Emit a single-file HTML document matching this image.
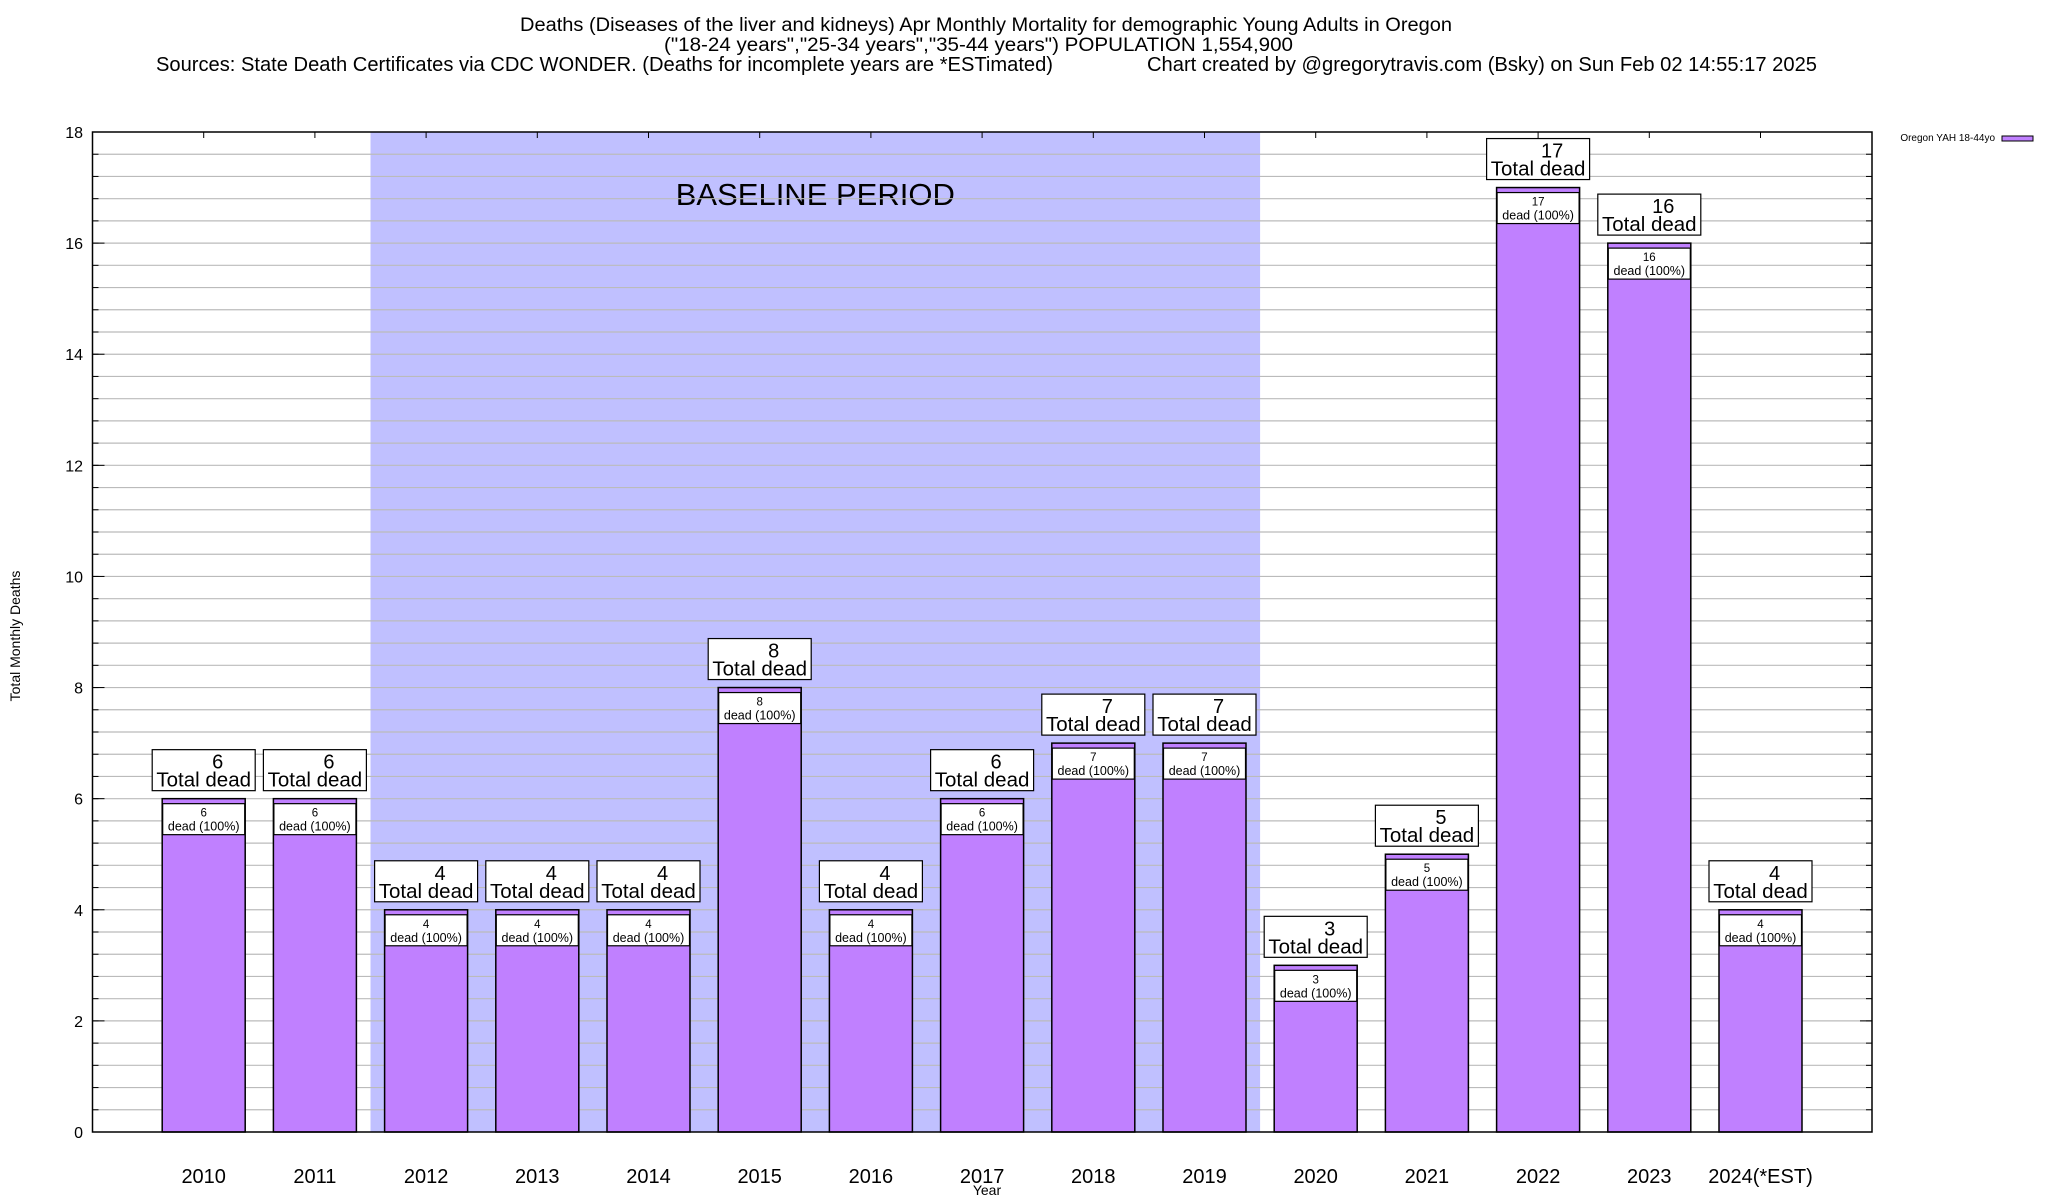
<!DOCTYPE html>
<html><head><meta charset="utf-8"><style>
html,body{margin:0;padding:0;background:#fff;}
svg{display:block;font-family:"Liberation Sans",Arial,sans-serif;}
</style></head><body>
<svg id="chart" width="2048" height="1200" viewBox="0 0 2048 1200" xmlns="http://www.w3.org/2000/svg">
<g font-size="19">
<text x="520" y="31" textLength="932" lengthAdjust="spacingAndGlyphs">Deaths (Diseases of the liver and kidneys) Apr Monthly Mortality for demographic Young Adults in Oregon</text>
<text x="664" y="51" textLength="629" lengthAdjust="spacingAndGlyphs">("18-24 years","25-34 years","35-44 years") POPULATION 1,554,900</text>
<text x="156" y="71" font-size="20" textLength="897" lengthAdjust="spacingAndGlyphs">Sources: State Death Certificates via CDC WONDER. (Deaths for incomplete years are *ESTimated)</text>
<text x="1147" y="71" font-size="20" textLength="670" lengthAdjust="spacingAndGlyphs">Chart created by @gregorytravis.com (Bsky) on Sun Feb 02 14:55:17 2025</text>
</g>
<g id="plot"></g>
<text x="20" y="636" font-size="14" text-anchor="middle" transform="rotate(-90 20 636)">Total Monthly Deaths</text>
<text x="987" y="1200" dy="-5" font-size="14" text-anchor="middle">Year</text>
<g>
<text x="1995" y="141" font-size="10" text-anchor="end">Oregon YAH 18-44yo</text>
<rect x="2002" y="136" width="31" height="5" fill="#c080ff" stroke="#000" stroke-width="1"/>
</g>
</svg>
<script>
const categories = ["2010","2011","2012","2013","2014","2015","2016","2017","2018","2019","2020","2021","2022","2023","2024(*EST)"];
const deaths = [6,6,4,4,4,8,4,6,7,7,3,5,17,16,4];
const yTicks = [0,2,4,6,8,10,12,14,16,18];
const baselineRange = ["2012","2019"];
const yMax = 18;

const NS = "http://www.w3.org/2000/svg";
const plot = document.getElementById('plot');
const L = 92.5, R = 1872, T = 132, B = 1132;
const x0 = 203.7, step = 111.2, barW = 83;
function xs(i){ return x0 + i*step; }
function ys(v){ return B - (v / yMax) * (B - T); }
function mk(tag, attrs, parent){
  const e = document.createElementNS(NS, tag);
  for (const k in attrs) e.setAttribute(k, attrs[k]);
  (parent||plot).appendChild(e);
  return e;
}

const bi0 = categories.indexOf(baselineRange[0]), bi1 = categories.indexOf(baselineRange[1]);
const shade = mk('rect', {x: xs(bi0)-step/2, y: T, width: (bi1-bi0+1)*step, height: B-T, fill: '#c0c0ff'});


const bt = mk('text', {x: (xs(bi0)+xs(bi1))/2, y: 205, 'font-size': 31, 'text-anchor': 'middle'});
bt.textContent = 'BASELINE PERIOD';



for (let k = 1; k*0.4 < yMax - 0.01; k++) {
  const v = k*0.4, y = ys(v);
  const g = mk('line', {x1: L, x2: R, y1: y, y2: y, stroke: '#bbbbbb', 'stroke-width': 1.2});
  
  
  mk('line', {x1: L, x2: L+6, y1: y, y2: y, stroke: '#000'});
  mk('line', {x1: R-6, x2: R, y1: y, y2: y, stroke: '#000'});
}
yTicks.forEach(v => {
  const y = ys(v);
  mk('line', {x1: L, x2: L+12, y1: y, y2: y, stroke: '#000'});
  mk('line', {x1: R-12, x2: R, y1: y, y2: y, stroke: '#000'});
  const t = mk('text', {x: 83, y: y+6, 'font-size': 16, 'text-anchor': 'end'});
  t.textContent = v;
  
  
});

deaths.forEach((v, i) => {
  const cx = xs(i), top = ys(v);
  const b = mk('rect', {x: cx-barW/2, y: top, width: barW, height: B-top, fill: '#c080ff', stroke: '#000', 'stroke-width': 1.5});
  
  
  const ib = mk('rect', {x: cx-41, y: top+5, width: 82, height: 31, fill: '#fff', stroke: '#000', 'stroke-width': 1.2});
  
  
  const it1 = mk('text', {x: cx, y: top+18, 'font-size': 11.5, 'text-anchor': 'middle'});
  it1.textContent = v;
  
  
  const it2 = mk('text', {x: cx, y: top+32, 'font-size': 12.5, 'text-anchor': 'middle'});
  it2.textContent = 'dead (100%)';
  
  
  const ob = mk('rect', {x: cx-51.5, y: top-49, width: 103, height: 41, fill: '#fff', stroke: '#000', 'stroke-width': 1.2});
  
  
  const ot1 = mk('text', {x: cx+14, y: top-30, 'font-size': 20, 'text-anchor': 'middle'});
  ot1.textContent = v;
  
  
  const ot2 = mk('text', {x: cx, y: top-12, 'font-size': 20.5, 'text-anchor': 'middle'});
  ot2.textContent = 'Total dead';
  
  
  mk('line', {x1: cx, x2: cx, y1: T, y2: T+6, stroke: '#000'});
  const xl = mk('text', {x: cx, y: 1183, 'font-size': 20, 'text-anchor': 'middle'});
  xl.textContent = categories[i];
  
  
});

const fr = mk('rect', {x: L, y: T, width: R-L, height: B-T, fill: 'none', stroke: '#000', 'stroke-width': 1.5});


</script>
</body></html>
